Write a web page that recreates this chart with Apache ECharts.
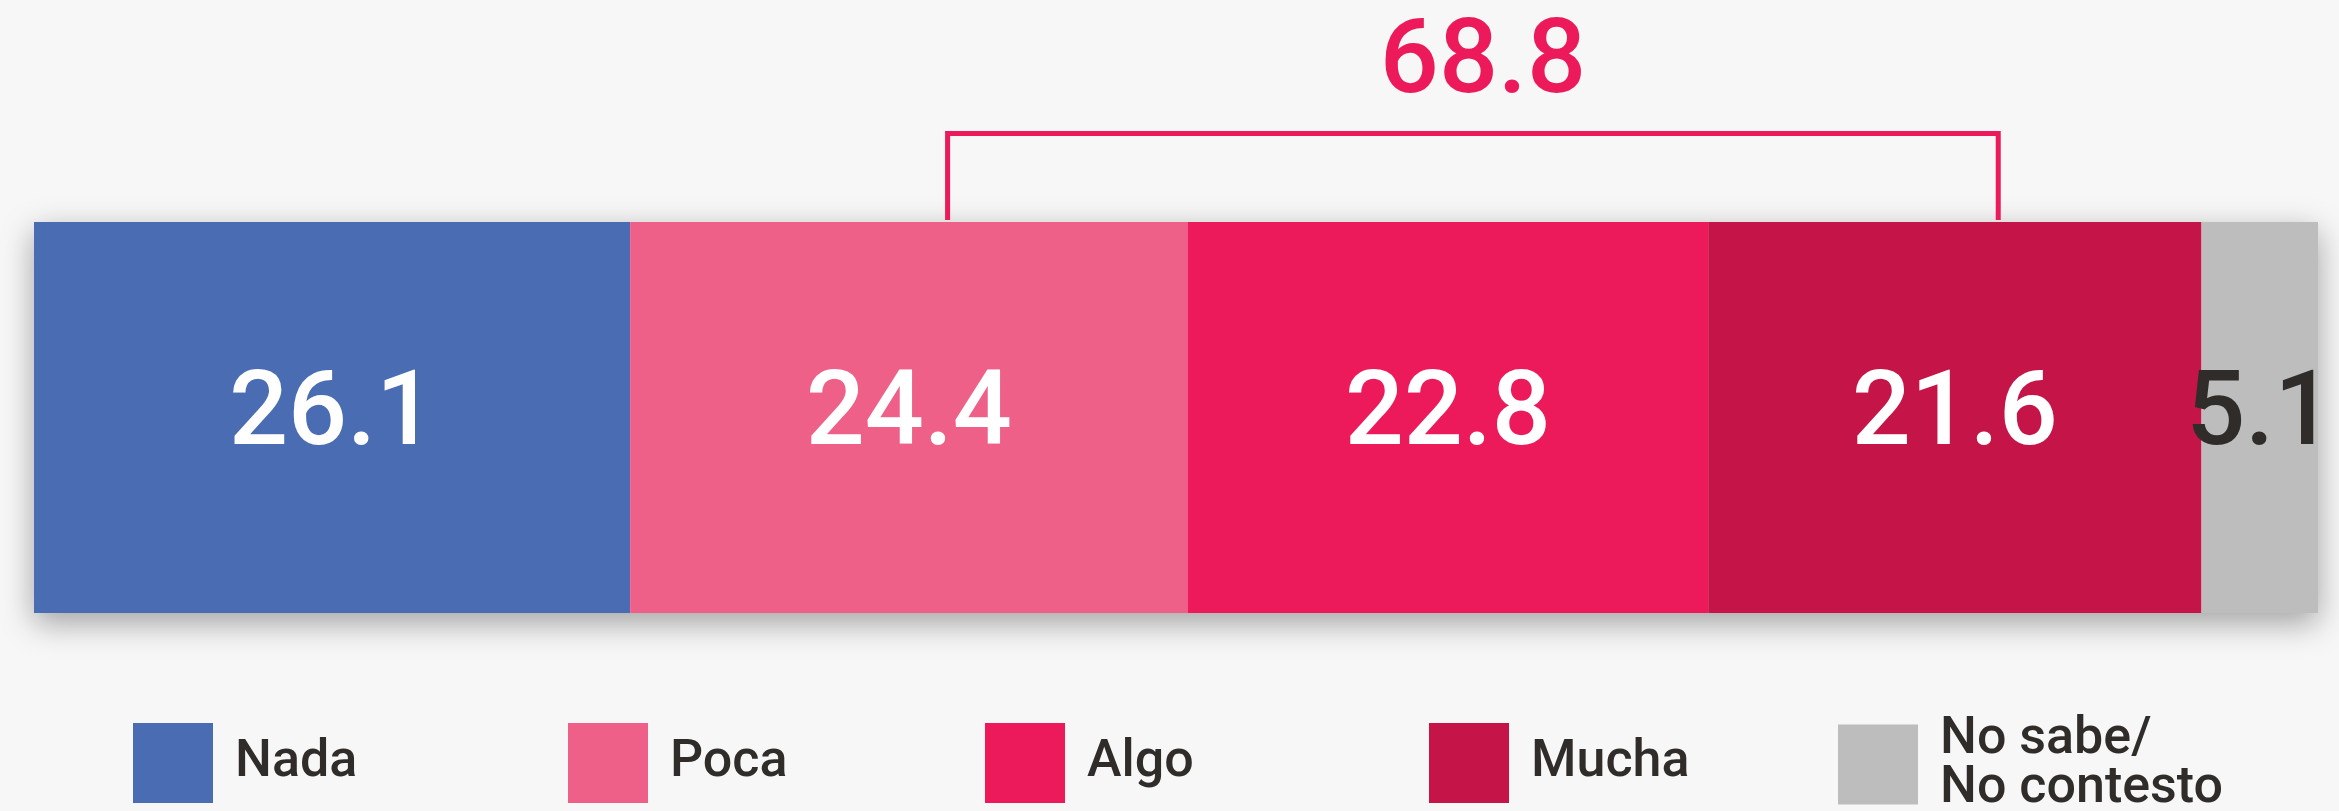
<!DOCTYPE html>
<html>
<head>
<meta charset="utf-8">
<script src="https://cdn.jsdelivr.net/npm/echarts@6/dist/echarts.min.js"></script>
<style>
html, body { margin: 0; padding: 0; background: #f7f7f7; }
#chart { width: 2339px; height: 811px; }
</style>
</head>
<body>
<div id="chart"></div>
<script>
// respuestas y porcentajes
var categories = ['Nada', 'Poca', 'Algo', 'Mucha', 'No sabe/\nNo contesto'];
var values = [26.1, 24.4, 22.8, 21.6, 5.1];
var colors = ['#4a6cb2', '#ef6089', '#ec1a5a', '#c41448', '#bdbdbd'];
var labelColors = ['#ffffff', '#ffffff', '#ffffff', '#ffffff', '#302c29'];

// corchete: tramo (en % del eje) y total Poca + Algo + Mucha
var bracketSpan = [40, 86];
var bracketTotal = 68.8;

var chart = echarts.init(document.getElementById('chart'));

var legendLeft = [133, 568, 985, 1429, 1838];

var series = categories.map(function (name, i) {
    var s = {
        name: name,
        type: 'bar',
        stack: 'total',
        barWidth: '100%',
        data: [values[i]],
        itemStyle: { color: colors[i] },
        label: {
            show: true,
            position: 'inside',
            fontSize: 104,
            fontWeight: 500,
            fontFamily: 'Roboto',
            color: labelColors[i],
            textBorderWidth: 0,
            formatter: function (p) { return p.value.toFixed(1); }
        }
    };
    if (i === 0) {
        // sombra de toda la barra
        s.showBackground = true;
        s.backgroundStyle = {
            color: '#f7f7f7',
            shadowBlur: 30,
            shadowOffsetY: 10,
            shadowColor: 'rgba(0,0,0,0.35)'
        };
    }
    return s;
});

series.push({
    type: 'custom',
    data: [[bracketSpan[0], bracketSpan[1], bracketTotal]],
    encode: { x: [0, 1] },
    z: 5,
    renderItem: function (params, api) {
        var p0 = api.coord([api.value(0), 0]);
        var p1 = api.coord([api.value(1), 0]);
        var h = api.size([0, 1])[1];
        var barTop = p0[1] - h / 2;
        var top = barTop - 88.5;
        return {
            type: 'group',
            children: [
                {
                    type: 'polyline',
                    shape: { points: [[p0[0], barTop - 2], [p0[0], top], [p1[0], top], [p1[0], barTop - 2]] },
                    style: { stroke: '#ec1a5a', lineWidth: 5, fill: null }
                },
                {
                    type: 'text',
                    x: (p0[0] + p1[0]) / 2 + 10,
                    y: barTop - 156,
                    style: {
                        text: api.value(2).toFixed(1),
                        fill: '#ec1a5a',
                        fontSize: 104,
                        fontWeight: 500,
                        fontFamily: 'Roboto',
                        align: 'center',
                        verticalAlign: 'middle'
                    }
                }
            ]
        };
    }
});

var option = {
    backgroundColor: '#f7f7f7',
    animation: false,
    grid: { left: 34, right: 21, top: 222, height: 391 },
    xAxis: { type: 'value', min: 0, max: 100, show: false },
    yAxis: { type: 'category', data: [''], show: false },
    legend: categories.map(function (name, i) {
        return {
            data: [name],
            left: legendLeft[i],
            top: i === 4 ? 714 : 723,
            padding: 0,
            icon: 'rect',
            itemWidth: 80,
            itemHeight: 80,
            selectedMode: false,
            textStyle: {
                fontSize: 52,
                fontWeight: 500,
                fontFamily: 'Roboto',
                color: '#302c29',
                lineHeight: 49,
                padding: [0, 0, 0, 17]
            }
        };
    }),
    series: series
};

chart.setOption(option);
</script>
</body>
</html>
